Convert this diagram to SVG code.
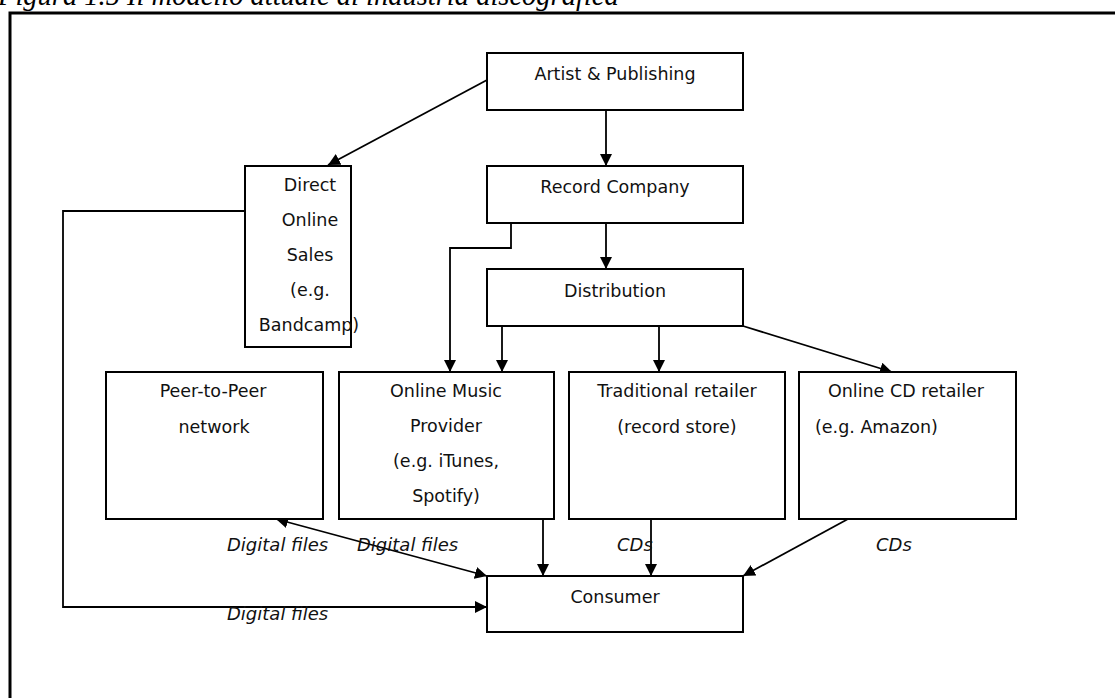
<svg xmlns="http://www.w3.org/2000/svg" width="1115" height="698" viewBox="0 0 1115 698">
<style>
.box{fill:#fff;stroke:#000;stroke-width:2}
.t{font-family:"DejaVu Sans",sans-serif;font-size:17.5px;fill:#111;text-anchor:middle}
.lbl{font-family:"DejaVu Sans",sans-serif;font-size:18px;font-style:italic;fill:#111}
.c{fill:none;stroke:#000;stroke-width:1.8}
</style>
<defs>
<marker id="ah" viewBox="0 0 12 12" refX="12" refY="6" markerWidth="12" markerHeight="12" markerUnits="userSpaceOnUse" orient="auto-start-reverse">
<path d="M0,0 L12,6 L0,12 Z" fill="#000"/>
</marker>
</defs>
<rect width="1115" height="698" fill="#fff"/>
<text x="-2" y="5" font-family="Liberation Serif,serif" font-style="italic" font-size="28.5" fill="#000">Figura 1.5 Il modello attuale di industria discografica</text>
<path d="M10,730 L10,13 L1120,13" fill="none" stroke="#000" stroke-width="3"/>

<g id="connectors">
<line class="c" x1="487" y1="80" x2="328" y2="165" marker-end="url(#ah)"/>
<line class="c" x1="606" y1="110" x2="606" y2="166" marker-end="url(#ah)"/>
<line class="c" x1="606" y1="223" x2="606" y2="269" marker-end="url(#ah)"/>
<polyline class="c" points="511,223 511,248 450,248 450,372" marker-end="url(#ah)"/>
<line class="c" x1="502" y1="326" x2="502" y2="372" marker-end="url(#ah)"/>
<line class="c" x1="659" y1="326" x2="659" y2="372" marker-end="url(#ah)"/>
<line class="c" x1="743" y1="326" x2="892" y2="372" marker-end="url(#ah)"/>
<polyline class="c" points="245,211 63,211 63,607 487,607" marker-end="url(#ah)"/>
<line class="c" x1="276" y1="519" x2="487" y2="576" marker-start="url(#ah)" marker-end="url(#ah)"/>
<line class="c" x1="543" y1="519" x2="543" y2="576" marker-end="url(#ah)"/>
<line class="c" x1="651" y1="519" x2="651" y2="576" marker-end="url(#ah)"/>
<line class="c" x1="848" y1="519" x2="743" y2="576" marker-end="url(#ah)"/>
</g>

<g id="artist">
<rect class="box" x="487" y="53" width="256" height="57"/>
<text class="t" x="615" y="80">Artist &amp; Publishing</text>
</g>
<g id="record">
<rect class="box" x="487" y="166" width="256" height="57"/>
<text class="t" x="615" y="193">Record Company</text>
</g>
<g id="distribution">
<rect class="box" x="487" y="269" width="256" height="57"/>
<text class="t" x="615" y="297">Distribution</text>
</g>
<g id="direct">
<rect class="box" x="245" y="166" width="106" height="181"/>
<text class="t" x="310" y="191">Direct</text>
<text class="t" x="310" y="226">Online</text>
<text class="t" x="310" y="261">Sales</text>
<text class="t" x="310" y="296">(e.g.</text>
<text class="t" x="309" y="331">Bandcamp)</text>
</g>
<g id="p2p">
<rect class="box" x="106" y="372" width="217" height="147"/>
<text class="t" x="213" y="397">Peer-to-Peer</text>
<text class="t" x="214" y="433">network</text>
</g>
<g id="omp">
<rect class="box" x="339" y="372" width="215" height="147"/>
<text class="t" x="446" y="397">Online Music</text>
<text class="t" x="446" y="432">Provider</text>
<text class="t" x="446" y="467">(e.g. iTunes,</text>
<text class="t" x="446" y="502">Spotify)</text>
</g>
<g id="traditional">
<rect class="box" x="569" y="372" width="216" height="147"/>
<text class="t" x="677" y="397">Traditional retailer</text>
<text class="t" x="677" y="433">(record store)</text>
</g>
<g id="onlinecd">
<rect class="box" x="799" y="372" width="217" height="147"/>
<text class="t" x="906" y="397">Online CD retailer</text>
<text class="t" x="815" y="433" style="text-anchor:start">(e.g. Amazon)</text>
</g>
<g id="consumer">
<rect class="box" x="487" y="576" width="256" height="56"/>
<text class="t" x="615" y="603">Consumer</text>
</g>

<g id="labels">
<text class="lbl" x="227" y="551">Digital files</text>
<text class="lbl" x="357" y="551">Digital files</text>
<text class="lbl" x="617" y="551">CDs</text>
<text class="lbl" x="876" y="551">CDs</text>
<text class="lbl" x="227" y="620">Digital files</text>
</g>
</svg>
